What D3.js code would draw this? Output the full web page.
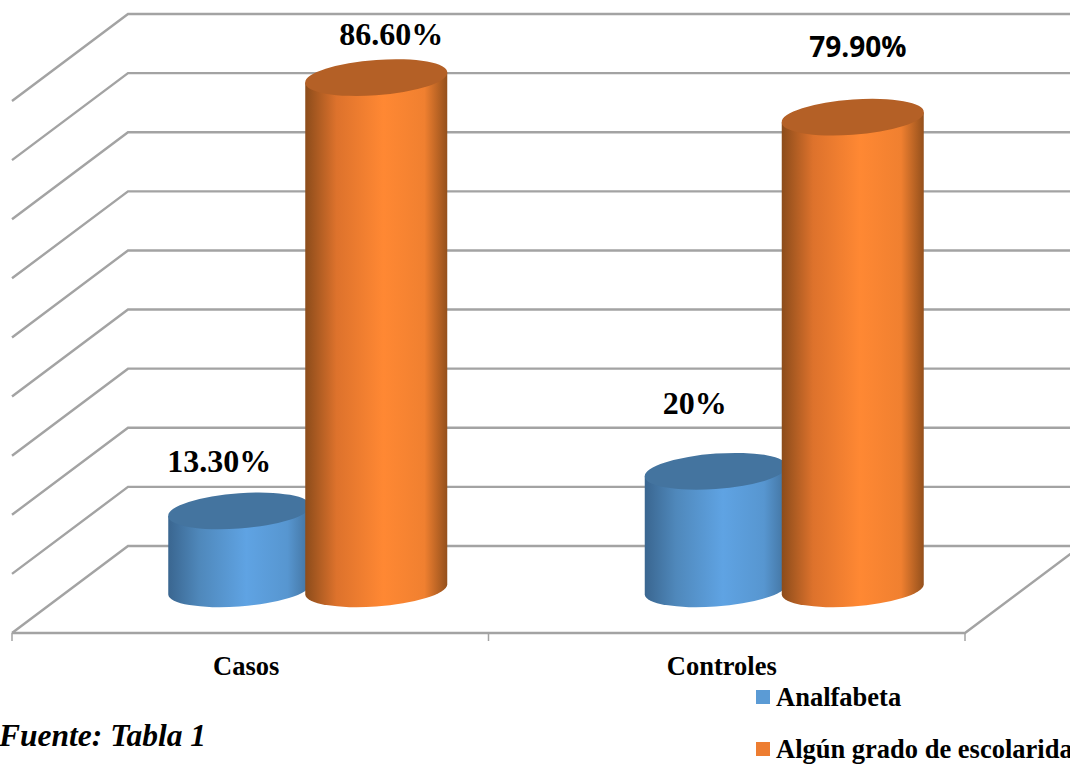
<!DOCTYPE html>
<html lang="es">
<head>
<meta charset="utf-8">
<title>Escolaridad en casos y controles</title>
<script src="https://cdnjs.cloudflare.com/ajax/libs/d3/7.8.5/d3.min.js"></script>
<style>
  html, body { margin: 0; padding: 0; background: #fff; overflow: hidden; }
  svg { display: block; }
  text { font-family: "Liberation Serif", serif; font-weight: bold; fill: #000; }
</style>
</head>
<body>
<svg id="chart" width="1070" height="765"></svg>
<script>
// Chart data
const categories = ["Casos", "Controles"];
const seriesNames = ["Analfabeta", "Algún grado de escolaridad"];
const analfabeta = [13.3, 20];
const escolaridad = [86.6, 79.9];
const analfabetaLabels = ["13.30%", "20%"];
const escolaridadLabels = ["86.60%", "79.90%"];
const gridTicks = [0, 10, 20, 30, 40, 50, 60, 70, 80, 90];
const sourceNote = "Fuente: Tabla 1";

const svg = d3.select("#chart");
const defs = svg.append("defs");

// Oblique projection of the 3D box: the floor recedes up and to the right
const depthX = 116, depthY = -87;
const floorY = 633;
const x0 = d3.scaleBand().domain(categories).range([12, 965]);
const y = d3.scaleLinear().domain([0, 90]).range([floorY + depthY, 14]);
const series = d3.scaleBand().domain(seriesNames).range([-137, 137]);

// Walls and floor
const gridColor = "#a3a3a3";
const grid = svg.append("g").attr("fill", "none").attr("stroke", gridColor).attr("stroke-width", 2.4);
grid.selectAll("path.wall").data(gridTicks).join("path")
  .attr("class", "wall")
  .attr("d", t => {
    const yb = y(t);
    return `M${x0.range()[0]},${yb - depthY}L${x0.range()[0] + depthX},${yb}L1075,${yb}`;
  });
grid.append("path").attr("d", `M12,${floorY}H965L${965 + depthX},${floorY + depthY}`);
grid.selectAll("line.tick")
  .data([x0.range()[0], ...categories.map(c => x0(c) + x0.bandwidth())])
  .join("line").attr("class", "tick")
  .attr("x1", d => d).attr("x2", d => d)
  .attr("y1", floorY).attr("y2", floorY + 8)
  .attr("stroke-width", 1.5);

// Cylinder shading
const palette = [
  { id: "blue", top: "#44749f", legend: "#5b9bd5",
    stops: ["#3a6690", "#4f88bb", "#5fa3e3", "#5796d0", "#42729e"] },
  { id: "orange", top: "#b46026", legend: "#ed7d31",
    stops: ["#8c4c1b", "#dd722c", "#ff8833", "#f08030", "#94501c"] }
];
palette.forEach(p => {
  const g = defs.append("linearGradient").attr("id", `body-${p.id}`);
  [0, 0.22, 0.55, 0.84, 1].forEach((o, i) =>
    g.append("stop").attr("offset", o).attr("stop-color", p.stops[i]));
});

// Tilted elliptical caps
const halfW = 71, tilt = 5, rx = 71.2, ry = 17.3, rot = -4.3;
const barBaseOffset = 43.5;
function capPath(cx, cy) {
  return `M${cx - halfW},${cy + tilt}A${rx},${ry} ${rot} 1 1 ${cx + halfW},${cy - tilt}` +
         `A${rx},${ry} ${rot} 1 1 ${cx - halfW},${cy + tilt}Z`;
}
function bodyPath(cx, cyTop, cyBase) {
  return `M${cx - halfW},${cyTop + tilt}L${cx - halfW},${cyBase + tilt}` +
         `A${rx},${ry} ${rot} 0 0 ${cx + halfW},${cyBase - tilt}` +
         `L${cx + halfW},${cyTop - tilt}Z`;
}
const yBar = v => y(v) + barBaseOffset;
const barCenter = (cat, name) =>
  x0(cat) + x0.bandwidth() / 2 + depthX / 2 + series(name) + series.bandwidth() / 2 - 0.5;

[analfabeta, escolaridad].forEach((values, s) => {
  const g = svg.append("g").attr("class", `series-${s}`);
  categories.forEach((cat, i) => {
    const cx = barCenter(cat, seriesNames[s]);
    g.append("path")
      .attr("d", bodyPath(cx, yBar(values[i]), yBar(0)))
      .attr("fill", `url(#body-${palette[s].id})`);
    g.append("path")
      .attr("d", capPath(cx, yBar(values[i])))
      .attr("fill", palette[s].top);
  });
});

// Value labels sit above each cap; offsets are per series, then per category
const labelShift = [[-20, -21], [15, 5]];
const labelLift = [[39, 57], [33, 60]];
[analfabetaLabels, escolaridadLabels].forEach((labels, s) => {
  const vals = s === 0 ? analfabeta : escolaridad;
  labels.forEach((txt, i) => {
    const isSans = txt === "79.90%";
    svg.append("text")
      .attr("x", barCenter(categories[i], seriesNames[s]) + labelShift[s][i])
      .attr("y", yBar(vals[i]) - labelLift[s][i])
      .attr("text-anchor", "middle")
      .style("font-size", isSans ? "28px" : "32px")
      .style("font-family", isSans ? "'Open Sans', sans-serif" : null)
      .text(txt);
  });
});

// Category labels
svg.selectAll("text.cat").data(categories).join("text")
  .attr("class", "cat")
  .attr("x", d => x0(d) + x0.bandwidth() / 2 - (d === "Casos" ? 4 : 5))
  .attr("y", 675)
  .attr("text-anchor", "middle")
  .style("font-size", "26.5px")
  .text(d => d);

// Legend
const legend = svg.selectAll("g.legend").data(seriesNames).join("g")
  .attr("class", "legend")
  .attr("transform", (d, i) => `translate(756,${690 + i * 52})`);
legend.append("rect").attr("width", 14).attr("height", 14)
  .attr("fill", (d, i) => palette[i].legend);
legend.append("text").attr("x", 20).attr("y", 16)
  .style("font-size", "26.5px").text(d => d);

// Source note
svg.append("text").attr("x", -1).attr("y", 746)
  .style("font-size", "31.5px").style("font-style", "italic")
  .text(sourceNote);
</script>
</body>
</html>
